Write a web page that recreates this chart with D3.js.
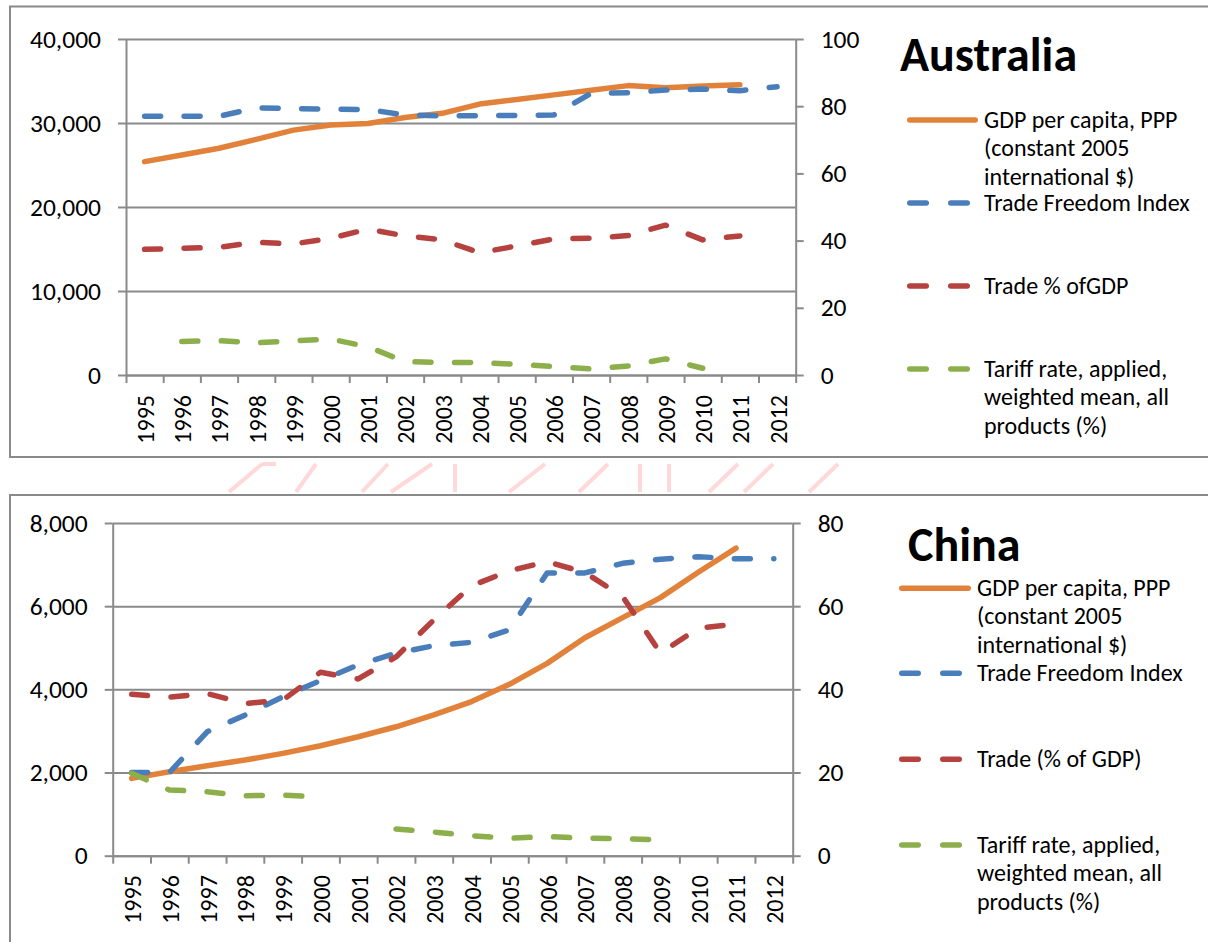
<!DOCTYPE html>
<html>
<head>
<meta charset="utf-8">
<script src="https://cdn.jsdelivr.net/npm/d3@7"></script>
<style>
  html, body { margin: 0; padding: 0; background: #ffffff; }
  svg { display: block; }
  text { font-family: Carlito, Calibri, Lato, sans-serif; fill: #000; }
</style>
</head>
<body>
<svg id="chart" width="1208" height="942"></svg>
<script>
// ---- data ----
const years = ["1995","1996","1997","1998","1999","2000","2001","2002","2003",
               "2004","2005","2006","2007","2008","2009","2010","2011","2012"];

// Australia
const ausGdp          = [25400, 26200, 27000, 28050, 29150, 29750, 29950, 30650, 31150,
                         32250, 32800, 33350, 33900, 34450, 34200, 34400, 34550, null];
const ausTradeFreedom = [77.0, 77.0, 77.0, 79.5, 79.3, 79.1, 79.0, 77.4, 77.1,
                         77.2, 77.2, 77.4, 83.8, 84.0, 84.8, 85.1, 84.6, 85.8];
const ausTradePct     = [37.4, 37.7, 38.0, 39.5, 39.0, 40.7, 43.4, 41.4, 40.2,
                         36.4, 38.4, 40.5, 40.7, 41.5, 44.6, 40.2, 41.4, null];
const ausTariff       = [null, 10.0, 10.2, 9.6, 10.2, 10.7, 8.4, 4.0, 3.7,
                         3.7, 3.2, 2.5, 1.8, 2.7, 4.8, 2.0, null, null];

// China
const chnGdp          = [1860, 2020, 2165, 2300, 2460, 2645, 2860, 3100, 3385,
                         3705, 4120, 4625, 5240, 5725, 6205, 6815, 7395, null];
const chnTradeFreedom = [20.0, 20.0, 29.8, 33.8, 38.2, 42.1, 45.9, 48.7, 50.5,
                         51.3, 54.3, 68.0, 68.0, 70.3, 71.3, 71.9, 71.4, 71.4];
const chnTradePct     = [38.8, 38.1, 39.0, 36.6, 37.4, 44.1, 42.5, 47.8, 56.7,
                         64.9, 68.5, 70.7, 68.1, 62.3, 48.7, 54.7, 55.7, null];
const chnTariff       = [19.8, 15.8, 15.4, 14.4, 14.6, 14.1, null, 6.4, 5.7,
                         4.8, 4.2, 4.6, 4.2, 4.1, 3.8, null, null, null];

// axis ticks
const ausLeftTicks  = [0, 10000, 20000, 30000, 40000];
const ausRightTicks = [0, 20, 40, 60, 80, 100];
const chnLeftTicks  = [0, 2000, 4000, 6000, 8000];
const chnRightTicks = [0, 20, 40, 60, 80];

// legend labels
const ausLabels = [
  ["GDP per capita, PPP", "(constant 2005", "international $)"],
  ["Trade Freedom Index"],
  ["Trade % ofGDP"],
  ["Tariff rate, applied,", "weighted mean, all", "products (%)"]
];
const chnLabels = [
  ["GDP per capita, PPP", "(constant 2005", "international $)"],
  ["Trade Freedom Index"],
  ["Trade (% of GDP)"],
  ["Tariff rate, applied,", "weighted mean, all", "products (%)"]
];

// ---- styling ----
const COLORS = { gdp: "#E2823A", freedom: "#4A7EBB", trade: "#B5423F", tariff: "#8CAF4B" };
const GRID = "#8A8A8A";
const LINE_W = 5.5;
const DASH = "16,23.5";
const FONT = "Carlito, Calibri, Lato, sans-serif";
const Y_FONT = 25.5, X_FONT = 24, LEGEND_FONT = 24, TITLE_FONT = 48;

const svg = d3.select("#chart");

// faint pink marks between the two panels
const pinkMarks = [
  [229, 492, 262, 464], [262, 464, 276, 464], [296, 492, 316, 464],
  [362, 492, 388, 464], [391, 492, 432, 464], [455, 492, 455, 464],
  [509, 492, 545, 464], [579, 492, 608, 464], [640, 492, 640, 464],
  [669, 492, 669, 464], [709, 492, 738, 464], [744, 492, 773, 464],
  [809, 492, 838, 464]
];
svg.append("g").selectAll("line").data(pinkMarks).join("line")
  .attr("x1", d => d[0]).attr("y1", d => d[1])
  .attr("x2", d => d[2]).attr("y2", d => d[3])
  .attr("stroke", "#FFC9C9").attr("stroke-width", 4).attr("opacity", 0.7);

function drawPanel(cfg) {
  const g = svg.append("g");

  // outer frame
  g.append("rect")
    .attr("x", cfg.frame[0]).attr("y", cfg.frame[1])
    .attr("width", cfg.frame[2]).attr("height", cfg.frame[3])
    .attr("fill", "none").attr("stroke", GRID).attr("stroke-width", 2);

  const { left, right, top, bottom } = cfg.plot;

  const x = d3.scaleBand().domain(years).range([left, right]).paddingInner(0).paddingOuter(0);
  const xEdge = d3.scaleLinear().domain([0, years.length]).range([left, right]);
  const yL = d3.scaleLinear().domain(cfg.leftDomain).range([bottom, top]);
  const yR = d3.scaleLinear().domain(cfg.rightDomain).range([bottom, top]);

  // horizontal gridlines
  const grid = g.append("g").attr("transform", `translate(${left},0)`)
    .call(d3.axisLeft(yL).tickValues(cfg.leftTicks).tickSize(-(right - left)).tickFormat(""));
  grid.select(".domain").remove();
  grid.selectAll("line").attr("stroke", GRID).attr("stroke-width", 2);

  // left axis
  const ax = g.append("g").attr("transform", `translate(${left},0)`)
    .call(d3.axisLeft(yL).tickValues(cfg.leftTicks).tickSize(8).tickSizeOuter(0)
      .tickPadding(17).tickFormat(d3.format(",")));
  ax.attr("font-family", FONT).attr("font-size", Y_FONT);
  ax.selectAll("path,line").attr("stroke", GRID).attr("stroke-width", 2);
  ax.selectAll("text").attr("fill", "#000");

  // right axis
  const ar = g.append("g").attr("transform", `translate(${right},0)`)
    .call(d3.axisRight(yR).tickValues(cfg.rightTicks).tickSize(8).tickSizeOuter(0)
      .tickPadding(17).tickFormat(d3.format("d")));
  ar.attr("font-family", FONT).attr("font-size", Y_FONT);
  ar.selectAll("path,line").attr("stroke", GRID).attr("stroke-width", 2);
  ar.selectAll("text").attr("fill", "#000");

  // bottom axis: tick marks between categories
  const bt = g.append("g").attr("transform", `translate(0,${bottom})`)
    .call(d3.axisBottom(xEdge).tickValues(d3.range(years.length + 1)).tickSize(8)
      .tickSizeOuter(0).tickFormat(""));
  bt.selectAll("path,line").attr("stroke", GRID).attr("stroke-width", 2);

  // bottom axis: rotated year labels
  const bl = g.append("g").attr("transform", `translate(0,${bottom})`)
    .call(d3.axisBottom(x).tickSize(0).tickSizeOuter(0));
  bl.select(".domain").remove();
  bl.attr("font-family", FONT).attr("font-size", X_FONT);
  bl.selectAll("text")
    .attr("fill", "#000")
    .attr("transform", "rotate(-90)")
    .attr("x", -cfg.labelGap).attr("y", 1).attr("dy", "0.35em")
    .style("text-anchor", "end");

  // series lines
  const mkLine = (yScale) => d3.line()
    .defined(d => d.v != null)
    .x(d => x(d.year) + x.bandwidth() / 2)
    .y(d => yScale(d.v));

  cfg.series.forEach(s => {
    const pts = years.map((yr, i) => ({ year: yr, v: s.values[i] }));
    g.append("path")
      .datum(pts)
      .attr("d", mkLine(s.axis === "left" ? yL : yR))
      .attr("fill", "none")
      .attr("stroke", s.color)
      .attr("stroke-width", LINE_W)
      .attr("stroke-linecap", "round")
      .attr("stroke-linejoin", "round")
      .attr("stroke-dasharray", s.dashed ? DASH : null);
  });

  // title
  g.append("text")
    .attr("x", cfg.title.x).attr("y", cfg.title.y)
    .attr("font-family", FONT).attr("font-size", TITLE_FONT).attr("font-weight", "bold")
    .text(cfg.title.text);

  // legend
  const lg = g.append("g").attr("font-family", FONT).attr("font-size", LEGEND_FONT);
  cfg.series.forEach((s, i) => {
    const ly = cfg.legend.ys[i];
    lg.append("line")
      .attr("x1", cfg.legend.x1 + LINE_W / 2).attr("x2", cfg.legend.x2 - LINE_W / 2)
      .attr("y1", ly).attr("y2", ly)
      .attr("stroke", s.color).attr("stroke-width", LINE_W)
      .attr("stroke-linecap", "round")
      .attr("stroke-dasharray", s.dashed ? "16.5,24.5" : null);
    const t = lg.append("text").attr("x", cfg.legend.tx).attr("y", ly + 7.5);
    s.label.forEach((ln, j) => {
      t.append("tspan").attr("x", cfg.legend.tx).attr("dy", j === 0 ? 0 : 28.5).text(ln);
    });
  });
}

drawPanel({
  frame: [10, 6.5, 1220, 450.5],
  plot: { left: 126, right: 795.7, top: 39, bottom: 375 },
  leftDomain: [0, 40000], rightDomain: [0, 100],
  leftTicks: ausLeftTicks, rightTicks: ausRightTicks,
  labelGap: 20,
  title: { text: "Australia", x: 900, y: 71 },
  legend: { x1: 907, x2: 978, tx: 984, ys: [120, 203, 286, 369] },
  series: [
    { values: ausGdp, axis: "left", color: COLORS.gdp, dashed: false, label: ausLabels[0] },
    { values: ausTradeFreedom, axis: "right", color: COLORS.freedom, dashed: true, label: ausLabels[1] },
    { values: ausTradePct, axis: "right", color: COLORS.trade, dashed: true, label: ausLabels[2] },
    { values: ausTariff, axis: "right", color: COLORS.tariff, dashed: true, label: ausLabels[3] }
  ]
});

drawPanel({
  frame: [10, 495, 1220, 470],
  plot: { left: 112.7, right: 792.7, top: 523, bottom: 855.7 },
  leftDomain: [0, 8000], rightDomain: [0, 80],
  leftTicks: chnLeftTicks, rightTicks: chnRightTicks,
  labelGap: 19.5,
  title: { text: "China", x: 908, y: 561 },
  legend: { x1: 899, x2: 971, tx: 977, ys: [588.3, 673.3, 759.3, 845] },
  series: [
    { values: chnGdp, axis: "left", color: COLORS.gdp, dashed: false, label: chnLabels[0] },
    { values: chnTradeFreedom, axis: "right", color: COLORS.freedom, dashed: true, label: chnLabels[1] },
    { values: chnTradePct, axis: "right", color: COLORS.trade, dashed: true, label: chnLabels[2] },
    { values: chnTariff, axis: "right", color: COLORS.tariff, dashed: true, label: chnLabels[3] }
  ]
});
</script>
</body>
</html>
